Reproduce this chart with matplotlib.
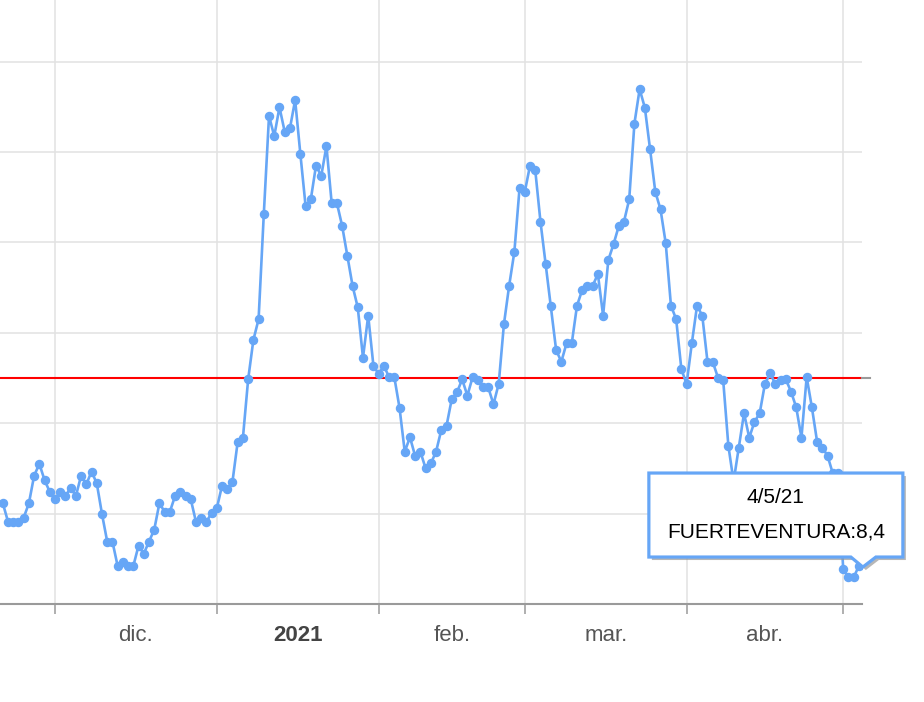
import numpy as np
import matplotlib.pyplot as plt
import matplotlib.dates as mdates
from matplotlib.patches import Polygon
from matplotlib.transforms import IdentityTransform

# daily values, first day 21 Nov 2020, last day 4 May 2021
start_day = np.datetime64('2020-11-21')
values = [
    22.3, 18.2, 18.2, 18.2, 19.1, 22.3, 28.4, 31.0, 27.4, 24.8,
    23.2, 24.8, 23.9, 25.7, 23.9, 28.4, 26.5, 29.3, 26.7, 19.9,
    13.8, 13.8, 8.4, 9.4, 8.4, 8.4, 12.9, 11.1, 13.8, 16.4,
    22.3, 20.4, 20.4, 23.9, 24.8, 23.9, 23.2, 18.2, 19.1, 18.2,
    20.1, 21.2, 26.2, 25.4, 27.1, 35.9, 36.8, 49.7, 58.4, 63.0,
    86.3, 108.0, 103.5, 109.9, 104.5, 105.2, 111.5, 99.6, 88.1, 89.5,
    97.0, 94.7, 101.3, 88.7, 88.7, 83.7, 77.1, 70.4, 65.6, 54.5,
    63.8, 52.7, 50.9, 52.7, 50.2, 50.2, 43.4, 33.7, 36.9, 32.7,
    33.7, 30.0, 31.1, 33.7, 38.5, 39.4, 45.3, 46.8, 49.7, 46.1,
    50.2, 49.6, 47.9, 47.9, 44.2, 48.7, 61.9, 70.4, 77.9, 92.1,
    91.2, 97.0, 96.0, 84.6, 75.2, 66.0, 56.2, 53.6, 57.7, 57.7,
    66.0, 69.5, 70.4, 70.4, 73.0, 63.8, 76.1, 79.6, 83.6, 84.6,
    89.5, 106.3, 113.9, 109.8, 100.6, 91.2, 87.3, 79.8, 66.0, 63.0,
    51.9, 48.7, 57.7, 66.0, 63.8, 53.6, 53.6, 50.1, 49.6, 35.0,
    27.1, 34.6, 42.2, 36.8, 40.3, 42.2, 48.7, 51.0, 48.7, 49.6,
    49.7, 47.0, 43.5, 36.8, 50.2, 43.5, 35.9, 34.6, 32.8, 28.9,
    28.9, 7.7, 5.9, 5.9, 8.4,
]
dates = start_day + np.arange(len(values))
threshold = 50

month_starts = np.array(['2020-12-01', '2021-01-01', '2021-02-01', '2021-03-01',
                         '2021-04-01', '2021-05-01'], dtype='datetime64[D]')
month_labels = ['dic.', '2021', 'feb.', 'mar.', 'abr.']
tooltip_date = '4/5/21'
tooltip_name = 'FUERTEVENTURA'

blue = '#66a6f6'
grid_c = '#e2e2e2'
axis_c = '#9a9a9a'

plt.rcParams['font.family'] = ['Liberation Sans', 'DejaVu Sans']

fig = plt.figure(figsize=(9.24, 7.02), dpi=100)
ax = fig.add_axes([0, 98 / 702, 862 / 924, 604 / 702])

x = mdates.date2num(dates)
starts = mdates.date2num(month_starts)
mids = (starts[:-1] + starts[1:]) / 2

ax.plot(x, values, color=blue, lw=1.9, marker='o', ms=5.8, zorder=3)
ax.axhline(threshold, color='#ff0000', lw=1.5, zorder=2)
# grey stub of the threshold line past the plot edge
ax.plot([1.0, 1.009], [threshold, threshold], transform=ax.get_yaxis_transform(),
        color=axis_c, lw=1.5, clip_on=False)

ax.set_xlim(starts[0] - 10.54, starts[0] + 154.6)
ax.set_ylim(0, 604 / 4.52)

ax.set_yticks(np.arange(0, 121, 20))
ax.set_yticklabels([])
ax.tick_params(axis='y', length=0)
ax.grid(axis='y', color=grid_c, lw=1.1, zorder=0)

ax.set_xticks(starts)
ax.set_xticklabels([])
ax.set_xticks(mids, labels=month_labels, minor=True)
ax.tick_params(axis='x', which='major', length=7.5, width=1.1, color=axis_c)
ax.tick_params(axis='x', which='minor', length=0, pad=15, labelsize=16, labelcolor='#555555')
ax.grid(axis='x', which='major', color=grid_c, lw=1.1, zorder=0)
lbl = ax.get_xticklabels(minor=True)[1]
lbl.set_fontweight('bold')
lbl.set_color('#444444')

for s in ['left', 'right', 'top']:
    ax.spines[s].set_visible(False)
ax.spines['bottom'].set_color(axis_c)
ax.spines['bottom'].set_linewidth(1.5)

# tooltip for the last point
px, py = ax.transData.transform((x[-1], values[-1]))
left, right = px - 210, px + 44
top, bottom = py + 93, py + 9
shape = [(left, top), (right, top), (right, bottom), (px + 17, bottom),
         (px + 4, py - 1), (px - 8, bottom), (left, bottom)]
shadow = [(a + 3, b - 3) for a, b in shape]
fig.add_artist(Polygon(shadow, closed=True, transform=IdentityTransform(),
                       facecolor='#999999', edgecolor='none', alpha=0.7, zorder=5))
fig.add_artist(Polygon(shape, closed=True, transform=IdentityTransform(),
                       facecolor='white', edgecolor=blue, lw=2.3, zorder=6))
cx = (left + right) / 2
fig.text(cx, py + 69, tooltip_date, transform=IdentityTransform(),
         ha='center', va='center', fontsize=15, color='black', zorder=7)
fig.text(cx, py + 34, '%s:%s' % (tooltip_name, str(values[-1]).replace('.', ',')),
         transform=IdentityTransform(), ha='center', va='center', fontsize=15,
         color='black', zorder=7)

fig.savefig('out.png', dpi=100)
